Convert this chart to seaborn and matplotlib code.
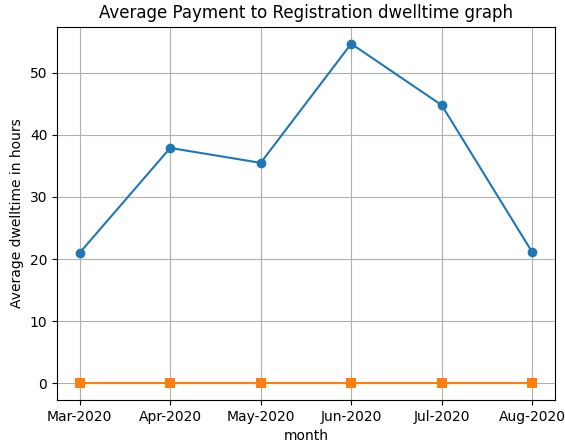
import matplotlib
matplotlib.use("Agg")
import matplotlib.pyplot as plt
import seaborn as sns

# Monthly dwelltime values
months = ['Mar-2020', 'Apr-2020', 'May-2020', 'Jun-2020', 'Jul-2020', 'Aug-2020']
avg_dwell = [21.0, 37.9, 35.5, 54.7, 44.8, 21.1]
baseline = [0, 0, 0, 0, 0, 0]

fig, ax = plt.subplots(figsize=(5.65, 4.46), dpi=100)

sns.lineplot(x=months, y=avg_dwell, marker='o', markersize=7, markeredgewidth=0,
             color='#1f77b4', linewidth=1.5, sort=False, ax=ax)
sns.lineplot(x=months, y=baseline, marker='s', markersize=7, markeredgewidth=0,
             color='#ff7f0e', linewidth=1.5, sort=False, ax=ax)

ax.set_title('Average Payment to Registration dwelltime graph')
ax.set_xlabel('month')
ax.set_ylabel('Average dwelltime in hours')
ax.grid(True)
ax.set_axisbelow(True)

plt.subplots_adjust(left=0.101, right=0.982, top=0.94, bottom=0.103)
plt.savefig('out.png')
plt.close()
